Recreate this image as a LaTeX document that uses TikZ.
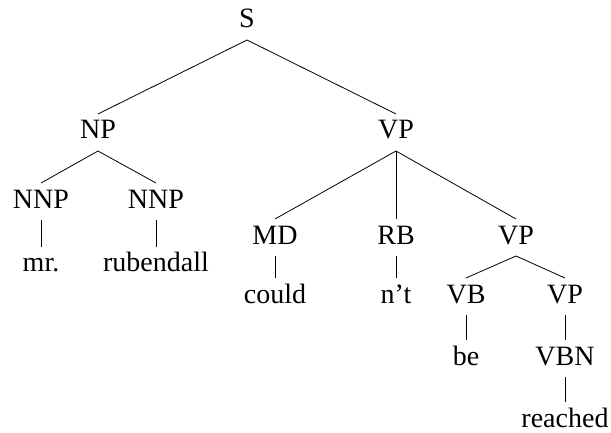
\documentclass[tikz,border=0pt]{standalone}
\usepackage{fontspec}
\setmainfont{Liberation Serif}
\newcommand\treeedge[2]{\draw[edge] ([yshift=-12pt]#1.base) -- ([yshift=25pt]#2.base);}
\begin{document}
\begin{tikzpicture}[x=1pt,y=-1pt,
  lbl/.style={anchor=base,inner sep=0pt,font=\fontsize{28}{32}\selectfont},
  edge/.style={line width=0.8pt,black}]
\useasboundingbox (0,0) rectangle (611,433);
\node[lbl] (S) at (247,28) {S};
\node[lbl] (NP) at (98,139) {NP};
\node[lbl] (VPa) at (396,139) {VP};
\node[lbl] (NNPa) at (41,208) {NNP};
\node[lbl] (NNPb) at (156,208) {NNP};
\node[lbl] (mr) at (41,272) {mr.};
\node[lbl] (rub) at (156,272) {rubendall};
\node[lbl] (MD) at (275,244) {MD};
\node[lbl] (RB) at (396,244) {RB};
\node[lbl] (VPb) at (516,244) {VP};
\node[lbl] (could) at (275,303) {could};
\node[lbl] (nt) at (396,303) {n’t};
\node[lbl] (VB) at (466,303) {VB};
\node[lbl] (VPc) at (565,303) {VP};
\node[lbl] (be) at (466,365) {be};
\node[lbl] (VBN) at (565,365) {VBN};
\node[lbl] (reached) at (565,427) {reached};
\treeedge{S}{NP}
\treeedge{S}{VPa}
\treeedge{NP}{NNPa}
\treeedge{NP}{NNPb}
\treeedge{NNPa}{mr}
\treeedge{NNPb}{rub}
\treeedge{VPa}{MD}
\treeedge{VPa}{RB}
\treeedge{VPa}{VPb}
\treeedge{MD}{could}
\treeedge{RB}{nt}
\treeedge{VPb}{VB}
\treeedge{VPb}{VPc}
\treeedge{VB}{be}
\treeedge{VPc}{VBN}
\treeedge{VBN}{reached}
\end{tikzpicture}
\end{document}
